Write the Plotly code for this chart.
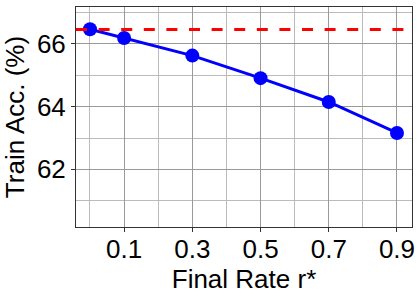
import plotly.graph_objects as go

rates = [0.0, 0.1, 0.3, 0.5, 0.7, 0.9]
train_acc = [66.47, 66.19, 65.63, 64.91, 64.15, 63.16]
baseline = 66.46
x_ticks = [0.1, 0.3, 0.5, 0.7, 0.9]
x_tick_labels = ["0.1", "0.3", "0.5", "0.7", "0.9"]
x_minor = [0.0, 0.2, 0.4, 0.6, 0.8]
y_ticks = [62, 64, 66]
y_minor = [61, 63, 65, 67]

fig = go.Figure()
fig.add_trace(go.Scatter(
    x=rates, y=train_acc, mode="lines+markers",
    line=dict(color="#0000ff", width=3),
    marker=dict(color="#0000ff", size=14),
    showlegend=False,
))
fig.add_hline(y=baseline, line=dict(color="#ff0000", width=3, dash="11px,11.6px"))

axis_common = dict(
    showline=True, linecolor="#333333", linewidth=1, mirror=True,
    ticks="outside", ticklen=4, tickcolor="#333333", tickwidth=1,
    showgrid=True, gridcolor="#999999", gridwidth=1, zeroline=False,
    tickfont=dict(size=26, color="black"), automargin=False,
)

fig.update_xaxes(
    range=[-0.041, 0.944], tickmode="array", tickvals=x_ticks, ticktext=x_tick_labels,
    minor=dict(tickmode="array", tickvals=x_minor, showgrid=True, gridcolor="#bbbbbb", ticks=""),
    title=dict(text="Final Rate r*", font=dict(size=26, color="black"), standoff=2),
    ticklabelstandoff=-5,
    **axis_common,
)
fig.update_yaxes(
    range=[60.16, 67.18], tickmode="array", tickvals=y_ticks,
    minor=dict(tickmode="array", tickvals=y_minor, showgrid=True, gridcolor="#bbbbbb", ticks=""),
    title=dict(text="Train Acc. (%)", font=dict(size=26, color="black"), standoff=8),
    **axis_common,
)

fig.update_layout(
    width=420, height=300,
    margin=dict(l=76, r=8, t=7, b=73),
    paper_bgcolor="white", plot_bgcolor="white",
    font=dict(family="Liberation Sans, Arial, sans-serif", color="black"),
)

fig.write_html("out.html", config={"displayModeBar": False},
               post_script="document.body.style.margin='0';document.body.style.padding='0';")
